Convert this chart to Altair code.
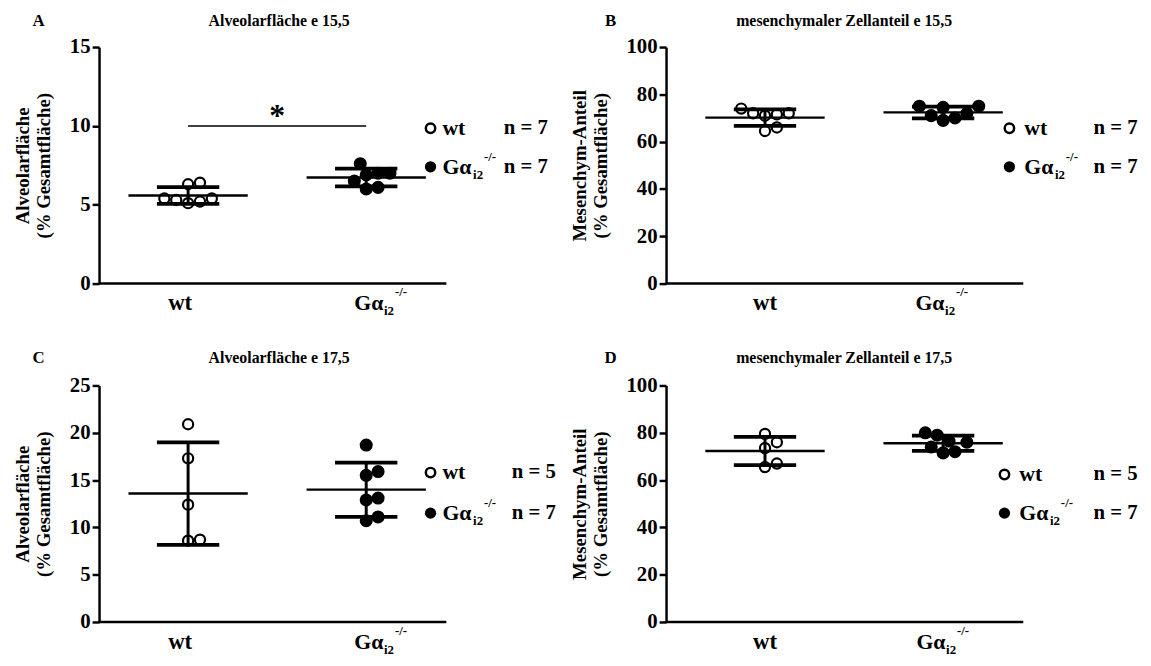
import altair as alt
import pandas as pd
import numpy as np

# ---------------- data ----------------
a_wt = [6.4, 6.3, 5.4, 5.1, 5.2, 5.4, 5.3]
a_ko = [7.6, 7.0, 7.0, 6.9, 6.5, 6.0, 6.1]
b_wt = [74.0, 72.0, 71.5, 72.0, 71.0, 64.5, 66.0]
b_ko = [75.0, 75.0, 74.5, 72.0, 71.0, 69.0, 70.0]
c_wt = [20.9, 17.3, 12.4, 8.6, 8.7]
c_ko = [18.7, 15.9, 15.5, 13.1, 12.9, 10.7, 11.1]
d_wt = [79.5, 76.0, 73.5, 67.0, 65.5]
d_ko = [80.0, 79.0, 76.5, 76.0, 74.0, 72.0, 71.5]

letters = ["A", "B", "C", "D"]
titles = ["Alveolarfläche e 15,5", "mesenchymaler Zellanteil e 15,5",
          "Alveolarfläche e 17,5", "mesenchymaler Zellanteil e 17,5"]
y_titles = [["Alveolarfläche", "(% Gesamtfläche)"],
            ["Mesenchym-Anteil", "(% Gesamtfläche)"],
            ["Alveolarfläche", "(% Gesamtfläche)"],
            ["Mesenchym-Anteil", "(% Gesamtfläche)"]]
y_max = [15, 100, 25, 100]
y_ticks = [[0, 5, 10, 15], [0, 20, 40, 60, 80, 100],
           [0, 5, 10, 15, 20, 25], [0, 20, 40, 60, 80, 100]]
group_labels = ["wt", "Gα"]
sub_label = "i2"
sup_label = "-/-"
n_labels = [["n = 7", "n = 7"], ["n = 7", "n = 7"],
            ["n = 5", "n = 7"], ["n = 5", "n = 7"]]
sig_star = "*"
sig_level = 10.0

values = [(a_wt, a_ko), (b_wt, b_ko), (c_wt, c_ko), (d_wt, d_ko)]

# ---------------- layout ----------------
W, H = 440, 239
PX = 90.0                      # pixels per x unit
positions = [1.0, 3.0]         # group centres (x units)
x_shift = [0, 10, 0, 10]       # px shift of groups per panel
axis_end = [3.9, 3.9, 3.9, 3.9]
legend_x = [[335, 347, 409], [347, 362, 432], [335, 347, 417], [342, 357, 432]]
legend_y = [[82, 121], [82, 121], [88, 129], [90, 129]]
title_dy = [-26, -26, -28, -28]
title_x = [182, 180, 182, 180]
letter_x = [-61, -56, -61, -56]
wt_dx = [-8, 0, -8, 0]
g_dx = [-12, -28, -12, -27]
FONT = "Liberation Serif"
DIAM = 12.0


def swarm(vals, center, ppu):
    placed = []
    out = [0.0] * len(vals)
    order = sorted(range(len(vals)), key=lambda k: vals[k])
    for k in order:
        yy = vals[k] * ppu
        off = 0.0
        for j in range(60):
            off = ((j + 1) // 2) * (DIAM / 2) * (1 if j % 2 else -1)
            if all((off - ox) ** 2 + (yy - oy) ** 2 >= DIAM ** 2 for ox, oy in placed):
                break
        placed.append((off, yy))
        out[k] = center + off / PX
    return out


def panel(i):
    wt, ko = values[i]
    x0 = -x_shift[i] / PX
    xs = alt.Scale(domain=[x0, x0 + W / PX])
    ys = alt.Scale(domain=[0, y_max[i]])
    ppu = H / y_max[i]

    yaxis = alt.Axis(values=y_ticks[i], title=y_titles[i], grid=False,
                     labelFont=FONT, labelFontSize=21, labelFontWeight="bold",
                     labelColor="black", labelPadding=2,
                     titleFont=FONT, titleFontSize=19, titleFontWeight="bold",
                     titleColor="black", titlePadding=16,
                     domainColor="black", domainWidth=2.5,
                     tickColor="black", tickWidth=2.5, tickSize=7)

    def X(f):
        return alt.X(f, scale=xs, axis=None)

    def Y(f):
        return alt.Y(f, scale=ys, axis=yaxis)

    rows = []
    stats = []
    for g, vals in enumerate([wt, ko]):
        xp = swarm(vals, positions[g], ppu)
        for v, xv in zip(vals, xp):
            rows.append({"group": g, "value": v, "xp": xv})
        m = float(np.mean(vals))
        sd = float(np.std(vals, ddof=1))
        p = positions[g]
        stats.append({"pos": p, "mean": m, "lo": m - sd, "hi": m + sd,
                      "ml": p - 0.67, "mr": p + 0.67, "cl": p - 0.35, "cr": p + 0.35})
    pts = pd.DataFrame(rows)
    st = pd.DataFrame(stats)

    open_pts = alt.Chart(pts[pts.group == 0]).mark_point(
        shape="circle", size=105, filled=False, stroke="black", strokeWidth=2.2, opacity=1
    ).encode(x=X("xp:Q"), y=Y("value:Q"))
    full_pts = alt.Chart(pts[pts.group == 1]).mark_point(
        shape="circle", size=125, filled=True, fill="black", stroke="black", opacity=1
    ).encode(x=X("xp:Q"), y=Y("value:Q"))

    base = alt.Chart(st)
    mean_r = base.mark_rule(color="black", strokeWidth=2.4).encode(
        x=X("ml:Q"), x2="mr:Q", y=Y("mean:Q"))
    vert = base.mark_rule(color="black", strokeWidth=3).encode(
        x=X("pos:Q"), y=Y("lo:Q"), y2="hi:Q")
    cap_hi = base.mark_rule(color="black", strokeWidth=3.8).encode(
        x=X("cl:Q"), x2="cr:Q", y=Y("hi:Q"))
    cap_lo = base.mark_rule(color="black", strokeWidth=3.8).encode(
        x=X("cl:Q"), x2="cr:Q", y=Y("lo:Q"))

    xline = alt.Chart(pd.DataFrame({"a": [x0], "b": [axis_end[i]], "y": [0]})).mark_rule(
        color="black", strokeWidth=2.5).encode(x=X("a:Q"), x2="b:Q", y=Y("y:Q"))

    lab = pd.DataFrame({"pos": positions, "t": group_labels})
    gdx = g_dx[i]
    xlab_wt = alt.Chart(lab.iloc[[0]]).mark_text(
        font=FONT, fontSize=23, fontWeight="bold", baseline="middle", align="center",
        dx=wt_dx[i]
    ).encode(x=X("pos:Q"), y=alt.value(H + 20), text="t:N")
    xlab_g = alt.Chart(lab.iloc[[1]]).mark_text(
        font=FONT, fontSize=22, fontWeight="bold", baseline="middle", align="left", dx=gdx
    ).encode(x=X("pos:Q"), y=alt.value(H + 20), text="t:N")
    subdf = pd.DataFrame({"pos": [positions[1]], "s": [sub_label], "p": [sup_label]})
    xlab_sub = alt.Chart(subdf).mark_text(
        font=FONT, fontSize=13, fontWeight="bold", baseline="middle", align="left",
        dx=gdx + 30
    ).encode(x=X("pos:Q"), y=alt.value(H + 28), text="s:N")
    xlab_sup = alt.Chart(subdf).mark_text(
        font=FONT, fontSize=13, fontWeight="bold", baseline="middle", align="left",
        dx=gdx + 41
    ).encode(x=X("pos:Q"), y=alt.value(H + 9), text="p:N")

    lx = legend_x[i]
    ly = legend_y[i]
    one = pd.DataFrame({"k": [0]})

    def txt(t, size, x, y, align="left"):
        return alt.Chart(one).mark_text(font=FONT, fontSize=size, fontWeight="bold",
                                        align=align, baseline="middle", text=t).encode(
            x=alt.value(x), y=alt.value(y))

    leg = [
        alt.Chart(one).mark_point(shape="circle", size=90, filled=False, stroke="black",
                                  strokeWidth=2.5, opacity=1).encode(
            x=alt.value(lx[0]), y=alt.value(ly[0])),
        alt.Chart(one).mark_point(shape="circle", size=130, filled=True, fill="black",
                                  opacity=1).encode(
            x=alt.value(lx[0]), y=alt.value(ly[1])),
        txt(group_labels[0], 22, lx[1], ly[0]),
        txt(group_labels[1], 22, lx[1], ly[1]),
        txt(sub_label, 13, lx[1] + 31, ly[1] + 8),
        txt(sup_label, 13, lx[1] + 42, ly[1] - 10),
        txt(n_labels[i][0], 21, lx[2], ly[0]),
        txt(n_labels[i][1], 21, lx[2], ly[1]),
        txt(titles[i], 16, title_x[i], title_dy[i], "center"),
        txt(letters[i], 17, letter_x[i], title_dy[i], "center"),
    ]

    layers = [xline, open_pts, full_pts, mean_r, vert, cap_hi, cap_lo,
              xlab_wt, xlab_g, xlab_sub, xlab_sup] + leg

    if i == 0:
        sig = pd.DataFrame({"a": [positions[0]], "b": [positions[1]], "y": [sig_level],
                            "m": [(positions[0] + positions[1]) / 2], "t": [sig_star]})
        layers.append(alt.Chart(sig).mark_rule(color="black", strokeWidth=1.5).encode(
            x=X("a:Q"), x2="b:Q", y=Y("y:Q")))
        layers.append(alt.Chart(sig).mark_text(font=FONT, fontSize=32, fontWeight="bold",
                                               baseline="middle", dy=2).encode(
            x=X("m:Q"), y=alt.value(H - sig_level * ppu - 12), text="t:N"))

    return alt.layer(*layers).properties(width=W, height=H)


panels = [panel(i) for i in range(4)]
chart = alt.concat(*panels, columns=2, spacing={"row": 103, "column": 133},
                   bounds="flush").properties(
    padding={"left": 6, "top": 1, "right": 5, "bottom": 5}
).configure(font=FONT).configure_view(stroke=None)

chart.save("out.html", embed_options={"renderer": "svg", "actions": False})
